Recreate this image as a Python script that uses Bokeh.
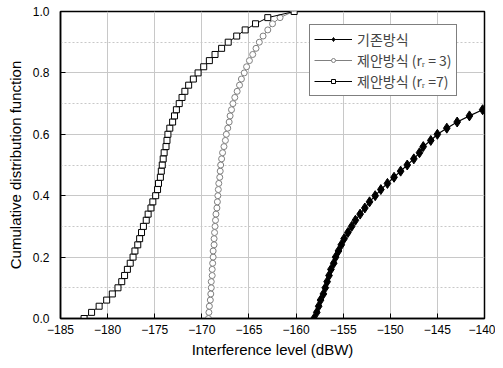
from bokeh.plotting import figure
from bokeh.models import SingleIntervalTicker, Legend, LegendItem, Range1d, CustomJSTickFormatter
from bokeh.embed import file_html
from bokeh.resources import INLINE

# CDF levels (shared by the two proposed-scheme curves)
cdf_levels = [0.00, 0.02, 0.04, 0.06, 0.08, 0.10, 0.12, 0.14, 0.16, 0.18,
              0.20, 0.22, 0.24, 0.26, 0.28, 0.30, 0.32, 0.34, 0.36, 0.38,
              0.40, 0.42, 0.44, 0.46, 0.48, 0.50, 0.52, 0.54, 0.56, 0.58,
              0.60, 0.62, 0.64, 0.66, 0.68, 0.70, 0.72, 0.74, 0.76, 0.78,
              0.80, 0.82, 0.84, 0.86, 0.88, 0.90, 0.92, 0.94, 0.96, 0.98, 1.00]

# proposed scheme, r_r = 7 (squares)
prop7_x = [-182.5, -181.7, -180.9, -180.1, -179.5, -178.9, -178.5, -178.2, -177.9, -177.6,
           -177.3, -177.1, -176.8, -176.6, -176.4, -176.2, -175.9, -175.7, -175.4, -175.2,
           -174.9, -174.7, -174.6, -174.4, -174.3, -174.2, -174.1, -174.0, -173.8, -173.7,
           -173.6, -173.4, -173.1, -172.9, -172.7, -172.4, -172.1, -171.8, -171.4, -170.9,
           -170.4, -169.8, -169.2, -168.6, -167.9, -167.2, -166.3, -165.4, -164.3, -163.0, -160.2]

# proposed scheme, r_r = 3 (circles)
prop3_x = [-169.3, -169.25, -169.2, -169.1, -169.05, -169.0, -169.0, -168.9, -168.9, -168.85,
           -168.8, -168.8, -168.7, -168.7, -168.65, -168.6, -168.55, -168.5, -168.4, -168.35,
           -168.3, -168.25, -168.2, -168.1, -168.05, -168.0, -167.9, -167.8, -167.65, -167.5,
           -167.4, -167.25, -167.1, -167.0, -166.85, -166.7, -166.5, -166.25, -166.0, -165.8,
           -165.5, -165.25, -164.95, -164.6, -164.25, -163.9, -163.5, -163.0, -162.5, -161.7, -160.3]

# conventional scheme (diamonds)
conv_y = [0.00, 0.02, 0.04, 0.06, 0.08, 0.10, 0.12, 0.14, 0.16, 0.18,
          0.20, 0.22, 0.24, 0.26, 0.28, 0.30, 0.32, 0.34, 0.36, 0.38,
          0.40, 0.42, 0.44, 0.46, 0.48, 0.50, 0.52, 0.54, 0.56, 0.58,
          0.60, 0.62, 0.64, 0.66, 0.68, 0.70, 0.72]
conv_x = [-158.1, -157.8, -157.6, -157.4, -157.1, -156.9, -156.7, -156.5, -156.3, -156.0,
          -155.8, -155.5, -155.2, -154.9, -154.5, -154.1, -153.7, -153.2, -152.7, -152.2,
          -151.6, -151.0, -150.3, -149.6, -148.9, -148.2, -147.5, -146.9, -146.5, -145.7,
          -145.0, -144.0, -142.9, -141.6, -140.2, -139.0, -137.8]

labels = ["기존방식", "제안방식 (rᵣ = 3)", "제안방식 (rᵣ =7)"]

p = figure(width=495, height=360, output_backend="svg", toolbar_location=None,
           x_range=Range1d(-185, -140), y_range=Range1d(0, 1.0))
p.min_border_left = 60
p.min_border_right = 11
p.min_border_top = 11
p.min_border_bottom = 40
p.background_fill_color = "white"
p.border_fill_color = "white"
p.outline_line_color = "black"
p.outline_line_width = 1.5

p.xaxis.ticker = SingleIntervalTicker(interval=5, num_minor_ticks=0)
p.yaxis.ticker = SingleIntervalTicker(interval=0.2, num_minor_ticks=2)

for ax in (p.xaxis[0], p.yaxis[0]):
    ax.axis_line_color = "black"
    ax.axis_line_width = 1.5
    ax.major_tick_in = 5
    ax.major_tick_out = 0
    ax.major_tick_line_color = "black"
    ax.minor_tick_line_color = None
    ax.major_label_text_font = "Liberation Sans"
    ax.major_label_text_font_size = "12px"
    ax.major_label_text_color = "black"
    ax.axis_label_text_font = "Liberation Sans"
    ax.axis_label_text_font_size = "15px"
    ax.axis_label_text_font_style = "normal"
    ax.axis_label_text_color = "black"

p.xaxis.axis_label = "Interference level (dBW)"
p.yaxis.axis_label = "Cumulative distribution function"
p.yaxis.formatter = CustomJSTickFormatter(code="return tick.toFixed(1);")
p.xaxis.major_label_standoff = 6
p.yaxis.major_label_standoff = 7
p.xaxis.axis_label_standoff = 4
p.yaxis.axis_label_standoff = 6

p.xgrid.grid_line_color = "#c8c8c8"
p.ygrid.grid_line_color = "#c8c8c8"
p.ygrid.minor_grid_line_color = "#c8c8c8"
p.ygrid.minor_grid_line_dash = "2 2"

l1 = p.line(conv_x, conv_y, line_color="black", line_width=1.2)
s1 = p.scatter(conv_x, conv_y, marker="diamond", size=10, fill_color="black", line_color="black")

l2 = p.line(prop3_x, cdf_levels, line_color="#808080", line_width=1)
s2 = p.scatter(prop3_x, cdf_levels, marker="circle", size=6, fill_color="white",
               line_color="#808080", line_width=1)

l3 = p.line(prop7_x, cdf_levels, line_color="black", line_width=1)
s3 = p.scatter(prop7_x, cdf_levels, marker="square", size=6, fill_color="white",
               line_color="black", line_width=1)

legend = Legend(items=[LegendItem(label=labels[0], renderers=[l1, s1]),
                       LegendItem(label=labels[1], renderers=[l2, s2]),
                       LegendItem(label=labels[2], renderers=[l3, s3])],
                location=(249, 222))
legend.label_text_font = "Noto Sans CJK KR"
legend.label_text_font_size = "14px"
legend.label_height = 20
legend.glyph_height = 10
legend.glyph_width = 38
legend.spacing = 1
legend.padding = 4
legend.margin = 0
legend.border_line_color = "black"
legend.border_line_width = 1
legend.background_fill_alpha = 1.0
p.add_layout(legend, "center")

open("out.html", "w").write(file_html(p, INLINE))
